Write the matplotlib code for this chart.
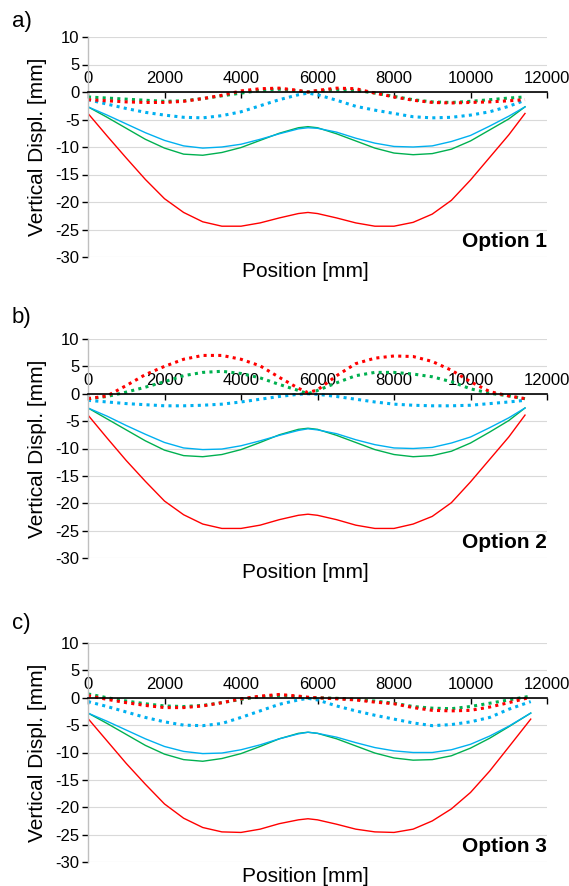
import matplotlib.pyplot as plt
import numpy as np

plt.rcParams['font.family'] = ['Liberation Sans', 'DejaVu Sans']
plt.rcParams['axes.unicode_minus'] = False

RED = '#FF0000'
GREEN = '#00B050'
BLUE = '#00B0F0'

# positions along the beam [mm]
x_ab = [0, 500, 1000, 1500, 2000, 2500, 3000, 3500, 4000, 4500, 5000, 5500, 5750,
        6000, 6500, 7000, 7500, 8000, 8500, 9000, 9500, 10000, 10500, 11000, 11425]
x_c = [0, 500, 1000, 1500, 2000, 2500, 3000, 3500, 4000, 4500, 5000, 5500, 5750,
       6000, 6500, 7000, 7500, 8000, 8500, 9000, 9500, 10000, 10500, 11000, 11575]

# Option 1
a_red = [-3.9, -8.0, -12.0, -15.9, -19.4, -21.9, -23.6, -24.4, -24.4, -23.8, -22.9, -22.1, -21.9,
         -22.1, -22.9, -23.8, -24.4, -24.4, -23.7, -22.2, -19.7, -16.0, -11.9, -7.8, -3.9]
a_blue = [-2.7, -4.2, -5.8, -7.4, -8.8, -9.8, -10.2, -10.0, -9.5, -8.6, -7.6, -6.7, -6.5,
          -6.6, -7.3, -8.4, -9.3, -9.9, -10.0, -9.8, -9.0, -7.9, -6.2, -4.4, -2.7]
a_green = [-2.7, -4.6, -6.6, -8.6, -10.2, -11.3, -11.5, -11.0, -10.1, -8.8, -7.5, -6.5, -6.3,
           -6.5, -7.6, -8.9, -10.2, -11.1, -11.4, -11.2, -10.4, -8.9, -6.9, -4.9, -2.7]
a_red_d = [-1.4, -1.6, -1.8, -1.9, -1.9, -1.7, -1.2, -0.6, 0.2, 0.6, 0.7, 0.3, 0.0,
           0.3, 0.7, 0.6, -0.2, -0.9, -1.5, -1.9, -2.0, -1.9, -1.8, -1.6, -1.4]
a_green_d = [-0.9, -1.1, -1.3, -1.5, -1.7, -1.6, -1.2, -0.7, -0.2, 0.3, 0.5, 0.2, 0.0,
             0.2, 0.4, 0.3, -0.2, -0.8, -1.4, -1.8, -1.9, -1.7, -1.4, -1.1, -0.9]
a_blue_d = [-1.4, -2.2, -3.0, -3.7, -4.2, -4.6, -4.7, -4.3, -3.6, -2.5, -1.4, -0.5, -0.2,
            -0.5, -1.5, -2.6, -3.3, -3.9, -4.5, -4.7, -4.6, -4.2, -3.6, -2.6, -1.5]

# Option 2
b_red = [-3.9, -8.1, -12.2, -16.0, -19.6, -22.1, -23.8, -24.6, -24.6, -24.0, -23.0, -22.2, -22.0,
         -22.2, -23.0, -24.0, -24.6, -24.6, -23.8, -22.4, -19.9, -16.1, -12.0, -7.9, -3.9]
b_blue = [-2.6, -4.1, -5.8, -7.4, -8.9, -9.9, -10.2, -10.1, -9.5, -8.6, -7.6, -6.7, -6.4,
          -6.6, -7.3, -8.4, -9.3, -9.9, -10.0, -9.8, -9.0, -7.9, -6.2, -4.4, -2.6]
b_green = [-2.6, -4.6, -6.6, -8.6, -10.3, -11.3, -11.5, -11.1, -10.2, -8.9, -7.5, -6.5, -6.3,
           -6.5, -7.6, -8.9, -10.2, -11.1, -11.5, -11.3, -10.5, -9.0, -7.0, -4.9, -2.6]
b_red_d = [-0.9, -0.4, 1.5, 3.5, 5.0, 6.3, 7.0, 7.0, 6.3, 5.1, 3.0, 1.0, 0.2,
           0.7, 3.3, 5.5, 6.5, 6.9, 6.8, 5.9, 4.3, 2.2, 0.4, -0.4, -0.9]
b_green_d = [-0.9, -0.5, 0.3, 1.2, 2.2, 3.3, 3.9, 4.1, 3.7, 2.9, 1.7, 0.6, 0.0,
             0.6, 2.0, 3.3, 3.9, 3.9, 3.6, 3.1, 2.2, 0.9, 0.1, -0.4, -0.9]
b_blue_d = [-1.2, -1.5, -1.8, -2.0, -2.2, -2.2, -2.1, -1.9, -1.5, -1.0, -0.5, -0.1, 0.0,
            -0.1, -0.5, -1.0, -1.5, -1.9, -2.1, -2.2, -2.2, -2.1, -1.8, -1.5, -1.2]

# Option 3
c_red = [-3.8, -7.9, -12.0, -15.8, -19.4, -22.0, -23.7, -24.5, -24.6, -24.0, -23.0, -22.3, -22.1,
         -22.3, -23.1, -24.0, -24.5, -24.6, -24.0, -22.5, -20.3, -17.3, -13.4, -9.0, -3.9]
c_blue = [-2.8, -4.3, -5.9, -7.5, -8.9, -9.8, -10.2, -10.1, -9.5, -8.6, -7.5, -6.6, -6.3,
          -6.5, -7.2, -8.2, -9.1, -9.7, -10.0, -10.0, -9.5, -8.5, -7.0, -5.2, -2.8]
c_green = [-2.8, -4.7, -6.7, -8.7, -10.3, -11.3, -11.6, -11.1, -10.2, -8.9, -7.5, -6.5, -6.3,
           -6.5, -7.5, -8.8, -10.1, -11.0, -11.4, -11.3, -10.6, -9.2, -7.4, -5.3, -2.8]
c_red_d = [0.4, -0.3, -0.9, -1.4, -1.8, -1.8, -1.5, -0.9, -0.2, 0.3, 0.6, 0.3, 0.1,
           0.0, -0.2, -0.4, -0.8, -1.1, -1.8, -2.3, -2.4, -2.3, -1.7, -0.9, 0.1]
c_green_d = [0.7, 0.0, -0.6, -1.1, -1.5, -1.6, -1.4, -0.9, -0.3, 0.2, 0.4, 0.2, 0.0,
             0.0, -0.1, -0.3, -0.6, -1.0, -1.6, -1.9, -2.0, -1.6, -1.0, -0.4, 0.3]
c_blue_d = [-0.7, -1.6, -2.6, -3.6, -4.4, -5.0, -5.1, -4.7, -3.6, -2.4, -1.2, -0.4, -0.1,
            -0.4, -1.5, -2.4, -3.2, -3.9, -4.6, -5.1, -4.9, -4.4, -3.6, -2.1, -0.7]

panels = [
    ('a)', 'Option 1', x_ab, a_red, a_blue, a_green, a_red_d, a_green_d, a_blue_d),
    ('b)', 'Option 2', x_ab, b_red, b_blue, b_green, b_red_d, b_green_d, b_blue_d),
    ('c)', 'Option 3', x_c, c_red, c_blue, c_green, c_red_d, c_green_d, c_blue_d),
]

W, H = 569, 886
fig = plt.figure(figsize=(W / 100, H / 100), dpi=100)

# axes boxes in pixels (left, top, right, bottom)
boxes = [(88, 37, 547, 257), (88, 339, 547, 558), (88, 643, 547, 862)]
label_y = [22, 318, 624]

dots = (0, (1.0, 1.4))

for (tag, opt, x, r, bl, g, rd, gd, bd), (l, t, rt, b), ly in zip(panels, boxes, label_y):
    ax = fig.add_axes([l / W, 1 - b / H, (rt - l) / W, (b - t) / H])
    ax.set_xlim(0, 12000)
    ax.set_ylim(-30, 10)
    ax.set_yticks(np.arange(-30, 11, 5))
    ax.set_xticks(np.arange(0, 12001, 2000))
    ax.grid(axis='y', color='#D9D9D9', linewidth=0.8)
    ax.set_axisbelow(True)

    ax.plot(x, r, color=RED, lw=1.0)
    ax.plot(x, g, color=GREEN, lw=1.0)
    ax.plot(x, bl, color=BLUE, lw=1.0)
    ax.plot(x, bd, color=BLUE, lw=2.2, linestyle=dots, dash_capstyle='butt')
    ax.plot(x, gd, color=GREEN, lw=2.2, linestyle=dots, dash_capstyle='butt')
    ax.plot(x, rd, color=RED, lw=2.2, linestyle=dots, dash_capstyle='butt')

    for s in ['right', 'bottom']:
        ax.spines[s].set_visible(False)
    ax.spines['left'].set_color('#BFBFBF')
    ax.spines['left'].set_linewidth(1.0)
    ax.spines['top'].set_position(('data', 0))
    ax.spines['top'].set_color('black')
    ax.spines['top'].set_linewidth(1.2)
    ax.xaxis.set_ticks_position('top')
    ax.tick_params(axis='x', direction='in', length=4, width=1, color='black',
                   labelsize=12, pad=4)
    ax.tick_params(axis='y', direction='out', length=4, width=1, color='black',
                   labelsize=12, pad=2)

    ax.set_ylabel('Vertical Displ. [mm]', fontsize=15, labelpad=6)
    ax.text(0.474, -0.068, 'Position [mm]', transform=ax.transAxes,
            ha='center', va='center', fontsize=15)
    ax.text(1.0, 0.072, opt, transform=ax.transAxes, ha='right', va='center',
            fontsize=15, fontweight='bold')
    fig.text(12 / W, 1 - ly / H, tag, ha='left', va='center', fontsize=16)

fig.savefig('out.png', dpi=100)
